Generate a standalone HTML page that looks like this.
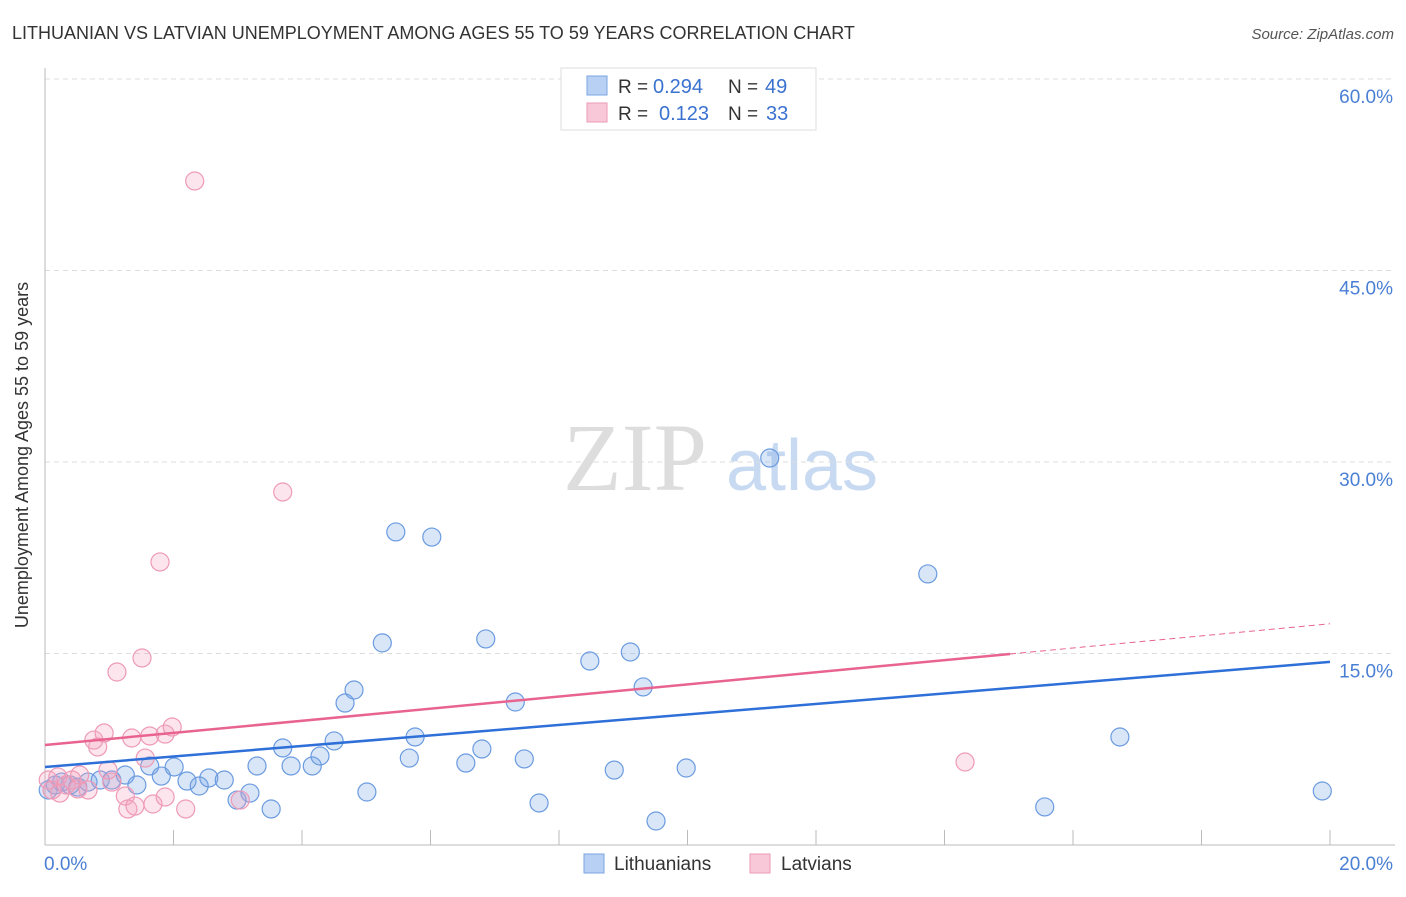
<!DOCTYPE html>
<html><head><meta charset="utf-8"><style>
body{margin:0;background:#fff;font-family:"Liberation Sans",sans-serif}
</style></head><body>
<svg width="1406" height="892" xmlns="http://www.w3.org/2000/svg" font-family="Liberation Sans, sans-serif">
<text x="12" y="39" font-size="18" fill="#333">LITHUANIAN VS LATVIAN UNEMPLOYMENT AMONG AGES 55 TO 59 YEARS CORRELATION CHART</text>
<text x="1394" y="39" font-size="15" fill="#555" font-style="italic" text-anchor="end">Source: ZipAtlas.com</text>
<g>
<text x="635" y="490" font-size="96" fill="#ddd" font-family="Liberation Serif, serif" text-anchor="middle">ZIP</text>
<text x="802" y="490" font-size="72" fill="#c8daf2" text-anchor="middle">atlas</text>
</g>
<g id="grid"></g>
<g id="axes"></g>
<g id="pts"></g>
<g id="lines"></g>
<text x="28" y="455" font-size="18" fill="#333" text-anchor="middle" transform="rotate(-90 28 455)">Unemployment Among Ages 55 to 59 years</text>
<g>
<rect x="561" y="68" width="255" height="62" fill="#fff" stroke="#ddd"/>
<rect x="587" y="76" width="20" height="19" fill="#b8d0f4" stroke="#7aa5e0"/>
<rect x="587" y="103" width="20" height="19" fill="#f9c8d8" stroke="#eb9ab5"/>
<text x="618" y="93" font-size="19" fill="#333">R =</text>
<text x="653" y="93" font-size="20" fill="#3a72d0">0.294</text>
<text x="728" y="93" font-size="19" fill="#333">N =</text>
<text x="765" y="93" font-size="20" fill="#3a72d0">49</text>
<text x="618" y="120" font-size="19" fill="#333">R =</text>
<text x="659" y="120" font-size="20" fill="#3a72d0">0.123</text>
<text x="728" y="120" font-size="19" fill="#333">N =</text>
<text x="766" y="120" font-size="20" fill="#3a72d0">33</text>
</g>
<g>
<rect x="584" y="854" width="20" height="19" fill="#b8d0f4" stroke="#7aa5e0"/>
<text x="614" y="870" font-size="19" fill="#333">Lithuanians</text>
<rect x="750" y="854" width="20" height="19" fill="#f9c8d8" stroke="#eb9ab5"/>
<text x="781" y="870" font-size="19" fill="#333">Latvians</text>
</g>
</svg>
<script>
const yTicks=[15,30,45,60];
const yTickLabels=["15.0%","30.0%","45.0%","60.0%"];
const xTicks=[0,2,4,6,8,10,12,14,16,18,20];
const ltX=[0.05,0.16,0.26,0.39,0.51,0.67,0.86,1.04,1.25,1.43,1.63,1.81,2.01,2.21,2.40,2.55,2.79,2.99,3.19,3.30,3.52,3.70,3.83,4.16,4.28,4.50,4.67,4.81,5.01,5.25,5.46,5.67,5.76,6.02,6.55,6.80,6.86,7.32,7.46,7.69,8.48,8.86,9.11,9.31,9.51,9.98,11.28,13.74,15.56,16.73,19.88];
const ltY=[4.31,4.70,4.93,4.70,4.54,4.93,5.09,5.09,5.48,4.70,6.19,5.40,6.11,5.01,4.62,5.25,5.09,3.52,4.07,6.19,2.82,7.60,6.19,6.19,6.97,8.15,11.12,12.14,4.15,15.83,24.52,6.81,8.46,24.12,6.42,7.52,16.14,11.20,6.74,3.29,14.41,5.87,15.12,12.38,1.88,6.03,30.31,21.23,2.98,8.46,4.23];
const lvX=[0.05,0.11,0.20,0.33,0.42,0.54,0.51,0.67,0.82,0.76,0.92,1.04,1.12,1.25,1.29,1.35,1.40,1.51,1.56,1.63,1.68,1.79,1.87,1.87,1.98,2.19,2.33,3.04,3.70,14.32,0.98,0.23];
const lvY=[5.09,4.31,5.33,4.70,5.09,5.48,4.39,4.31,7.68,8.22,8.77,4.93,13.55,3.84,2.82,8.38,3.05,14.65,6.81,8.54,3.21,22.17,3.76,8.69,9.24,2.82,52.01,3.52,27.65,6.50,5.87,4.07];
const ltTrend=[6.11,14.34];
const lvTrend=[7.83,17.33];
const lvSolidEnd=15.02;
const X=v=>45+v*64.25, Y=v=>845-v*12.767;
const NS="http://www.w3.org/2000/svg";
function mk(t,a,p){const e=document.createElementNS(NS,t);for(const k in a)e.setAttribute(k,a[k]);document.getElementById(p).appendChild(e);return e;}
yTicks.forEach((t,i)=>{
 const g=mk('line',{x1:45,x2:1395,y1:Y(t),y2:Y(t),stroke:'#ddd','stroke-dasharray':'5,4'},'grid');
 
 
 const l=mk('text',{x:1393,y:Y(t)+24,'font-size':19,fill:'#4a7fd4','text-anchor':'end'},'grid');
 l.textContent=yTickLabels[i];
 
 
});
let a=mk('line',{x1:45,x2:45,y1:68,y2:845,stroke:'#bbb'},'axes');


a=mk('line',{x1:45,x2:1395,y1:845,y2:845,stroke:'#bbb'},'axes');


xTicks.forEach(t=>{const e=mk('line',{x1:X(t),x2:X(t),y1:830,y2:845,stroke:'#bbb'},'axes');
 
 });
let tl=mk('text',{x:44,y:870,'font-size':19,fill:'#4a7fd4'},'axes');tl.textContent='0.0%';


tl=mk('text',{x:1393,y:870,'font-size':19,fill:'#4a7fd4','text-anchor':'end'},'axes');tl.textContent='20.0%';


ltX.forEach((x,i)=>{const c=mk('circle',{cx:X(x),cy:Y(ltY[i]),r:9,fill:'rgba(120,165,230,0.28)',stroke:'#6b9be0','stroke-width':1.2},'pts');
 
 });
lvX.forEach((x,i)=>{const c=mk('circle',{cx:X(x),cy:Y(lvY[i]),r:9,fill:'rgba(245,160,190,0.28)',stroke:'#ee9ab6','stroke-width':1.2},'pts');
 
 });
let t=mk('line',{x1:X(0),y1:Y(ltTrend[0]),x2:X(20),y2:Y(ltTrend[1]),stroke:'#2e6fd8','stroke-width':2.5},'lines');


const lv=x=>lvTrend[0]+(lvTrend[1]-lvTrend[0])*x/20;
t=mk('line',{x1:X(0),y1:Y(lv(0)),x2:X(lvSolidEnd),y2:Y(lv(lvSolidEnd)),stroke:'#e8648f','stroke-width':2.5},'lines');


t=mk('line',{x1:X(lvSolidEnd),y1:Y(lv(lvSolidEnd)),x2:X(20),y2:Y(lv(20)),stroke:'#e8648f','stroke-width':1,'stroke-dasharray':'6,4'},'lines');


</script>
</body></html>
